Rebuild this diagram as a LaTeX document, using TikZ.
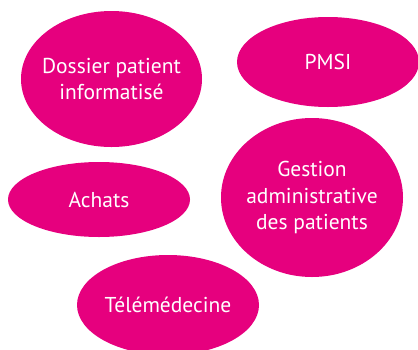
\documentclass[tikz,border=0pt]{standalone}
\usepackage{fontspec}
\setmainfont{PT Sans}
\usetikzlibrary{shapes.geometric}
\definecolor{bubblepink}{HTML}{E6007E}

\begin{document}
\begin{tikzpicture}[x=1pt, y=-1pt,
    bubble/.style={ellipse, fill=bubblepink, text=white, inner sep=-8pt, align=center,
        font=\fontsize{21.5}{26.5}\selectfont}]

    % Frame
    \useasboundingbox (0,0) rectangle (418,349);
    \clip (0,0) rectangle (418,349);

    %% Bubbles

    % Left column
    \node[bubble, minimum width=181, minimum height=136] (dossier) at (111.5,79) {Dossier patient\\informatisé};
    \node[bubble, minimum width=182, minimum height=75] (achats) at (99,199.5) {Achats};
    \node[bubble, minimum width=182, minimum height=100] (tele) at (168,305) {Télémédecine};

    % Right column
    \node[bubble, minimum width=182, minimum height=90] (pmsi) at (328,62) {PMSI};
    \node[bubble, minimum width=182, minimum height=159] (gestion) at (312,197.5) {Gestion\\administrative\\des patients};

\end{tikzpicture}
\end{document}
